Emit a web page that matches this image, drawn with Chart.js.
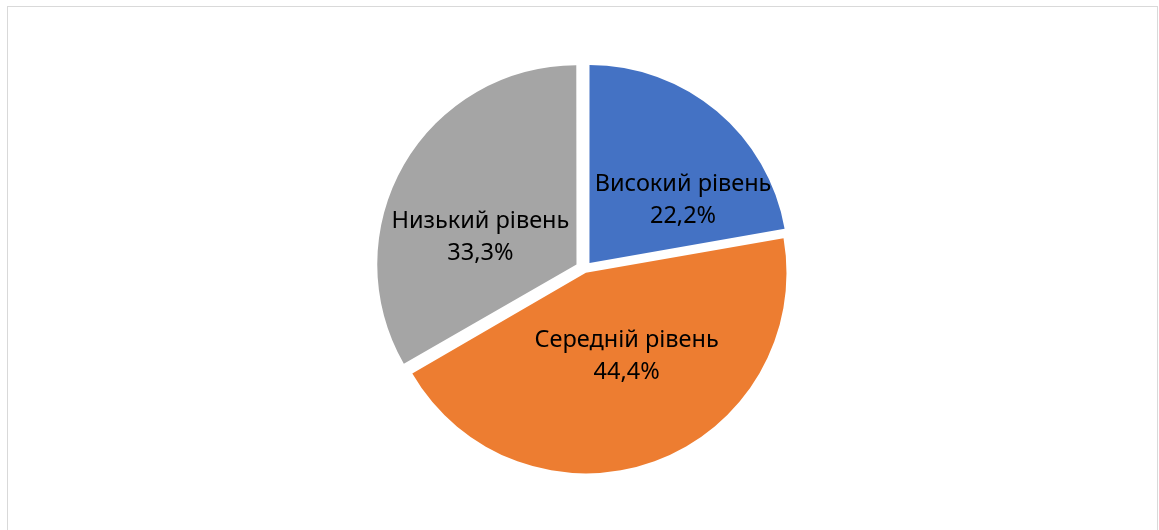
<!DOCTYPE html>
<html>
<head>
<meta charset="utf-8">
<script src="https://cdn.jsdelivr.net/npm/chart.js@4"></script>
<style>
  html, body { margin: 0; padding: 0; background: #fff; overflow: hidden; }
  #wrap { position: relative; width: 1159px; height: 530px; }
  #frame { position: absolute; left: 7px; top: 6px; width: 1151px; height: 600px; border: 1px solid #d9d9d9; box-sizing: border-box; }
  canvas { position: absolute; left: 0; top: 0; }
</style>
</head>
<body>
<div id="wrap">
  <div id="frame"></div>
  <canvas id="c" width="1159" height="530"></canvas>
</div>
<script>
const categories = ["Високий рівень", "Середній рівень", "Низький рівень"];
const values = [22.2, 44.4, 33.3];
const valueLabels = ["22,2%", "44,4%", "33,3%"];

const colors = ["#4472C4", "#ED7D31", "#A5A5A5"];
const explode = [31, 16, 37];
// label placement tweaks (style): angle nudge in degrees, radial fraction
const labelAngleNudge = [16, -6, -14];
const labelRadialFrac = [0.57, 0.47, 0.505];

const labelPlugin = {
  id: 'sliceLabels',
  afterDatasetsDraw(chart) {
    const ctx = chart.ctx;
    const meta = chart.getDatasetMeta(0);
    ctx.save();
    ctx.font = '23.5px "Noto Sans", "DejaVu Sans", sans-serif';
    ctx.fillStyle = '#000';
    ctx.textAlign = 'center';
    ctx.textBaseline = 'middle';
    meta.data.forEach((arc, i) => {
      const p = arc.getProps(['x', 'y', 'startAngle', 'endAngle', 'outerRadius'], true);
      const half = (p.startAngle + p.endAngle) / 2;
      const off = (arc.options.offset || 0) / 4;
      const cx = p.x + Math.cos(half) * off;
      const cy = p.y + Math.sin(half) * off;
      const a = half + labelAngleNudge[i] * Math.PI / 180;
      const r = p.outerRadius * labelRadialFrac[i];
      const lx = cx + Math.cos(a) * r;
      const ly = cy + Math.sin(a) * r;
      ctx.fillText(categories[i], lx, ly - 16);
      ctx.fillText(valueLabels[i], lx, ly + 16);
    });
    ctx.restore();
  }
};

new Chart(document.getElementById('c'), {
  type: 'pie',
  data: {
    labels: categories,
    datasets: [{
      data: values,
      backgroundColor: colors,
      borderWidth: 0,
      offset: explode,
      hoverOffset: 0
    }]
  },
  options: {
    responsive: false,
    animation: false,
    radius: 198,
    layout: { padding: { left: 10, right: 0, top: 8, bottom: 0 } },
    plugins: {
      legend: { display: false },
      tooltip: { enabled: false }
    },
    events: []
  },
  plugins: [labelPlugin]
});
</script>
</body>
</html>
